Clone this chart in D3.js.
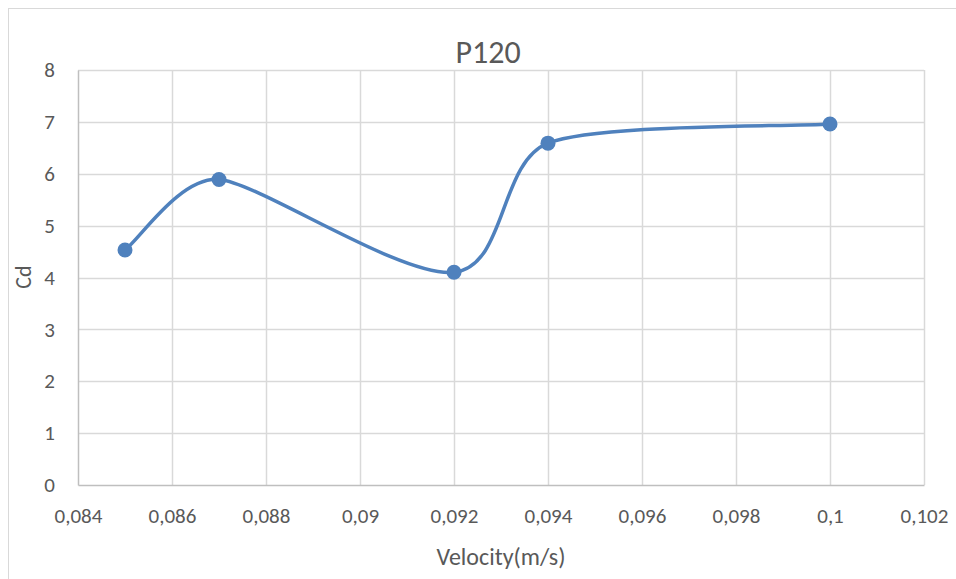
<!DOCTYPE html>
<html>
<head>
<meta charset="utf-8">
<script src="https://cdn.jsdelivr.net/npm/d3@7"></script>
<style>
  html, body { margin: 0; padding: 0; background: #fff; }
  svg { display: block; }
  text { font-family: Carlito, Calibri, Lato, "Liberation Sans", sans-serif; fill: #595959; }
</style>
</head>
<body>
<svg id="chart" width="956" height="579"></svg>
<script>
// Drag coefficient against flow velocity, series P120
const velocity = [0.085, 0.087, 0.092, 0.094, 0.1];
const cd = [4.53, 5.89, 4.10, 6.59, 6.96];
const xTicks = [0.084, 0.086, 0.088, 0.09, 0.092, 0.094, 0.096, 0.098, 0.1, 0.102];
const xTickLabels = ["0,084", "0,086", "0,088", "0,09", "0,092", "0,094", "0,096", "0,098", "0,1", "0,102"];
const yTicks = [0, 1, 2, 3, 4, 5, 6, 7, 8];
const title = "P120";
const xTitle = "Velocity(m/s)";
const yTitle = "Cd";

const FONT = "Carlito, Calibri, Lato, 'Liberation Sans', sans-serif";
const svg = d3.select("#chart");
const plot = { left: 78, top: 70, right: 924, bottom: 485 };

const x = d3.scaleLinear().domain([0.084, 0.102]).range([plot.left, plot.right]);
const y = d3.scaleLinear().domain([0, 8]).range([plot.bottom, plot.top]);

// chart frame
svg.append("rect")
  .attr("x", 8.5).attr("y", 8.5).attr("width", 1000).attr("height", 1000)
  .attr("fill", "none").attr("stroke", "#d9d9d9").attr("stroke-width", 1);

// gridlines
const grid = svg.append("g");
grid.selectAll("line.h").data(yTicks.filter(d => d > 0)).join("line")
  .attr("x1", plot.left).attr("x2", plot.right)
  .attr("y1", d => Math.round(y(d)) + 0.5).attr("y2", d => Math.round(y(d)) + 0.5)
  .attr("stroke", "#d9d9d9").attr("stroke-width", 1.5);
grid.selectAll("line.v").data(xTicks.filter(d => d > 0.084)).join("line")
  .attr("y1", plot.top).attr("y2", plot.bottom)
  .attr("x1", d => Math.round(x(d)) + 0.5).attr("x2", d => Math.round(x(d)) + 0.5)
  .attr("stroke", "#d9d9d9").attr("stroke-width", 1.5);

// axes
const xAxis = d3.axisBottom(x).tickValues(xTicks)
  .tickFormat((d, i) => xTickLabels[i]).tickSize(0).tickPadding(23);
const gx = svg.append("g").attr("transform", `translate(0,${plot.bottom})`).call(xAxis);
gx.select(".domain").attr("stroke", "#bfbfbf").attr("stroke-width", 1.5);
gx.selectAll("text").attr("font-size", 21).attr("fill", "#595959").style("font-family", FONT);

const yAxis = d3.axisLeft(y).tickValues(yTicks).tickSize(0).tickPadding(23);
const gy = svg.append("g").attr("transform", `translate(${plot.left},0)`).call(yAxis);
gy.select(".domain").attr("stroke", "#bfbfbf").attr("stroke-width", 1.5);
gy.selectAll("text").attr("font-size", 21).attr("fill", "#595959").style("font-family", FONT);

// smoothed series line: cubic Bezier segments with Catmull-Rom tangents,
// handle length capped at a third of the shorter neighbouring chord
const pts = velocity.map((v, i) => [x(v), y(cd[i])]);
function smoothPath(p) {
  const n = p.length;
  const dist = (a, b) => Math.hypot(b[0] - a[0], b[1] - a[1]);
  const tan = p.map((pt, i) => {
    const prev = p[Math.max(0, i - 1)], next = p[Math.min(n - 1, i + 1)];
    let tx = (next[0] - prev[0]) / 6, ty = (next[1] - prev[1]) / 6;
    if (i > 0 && i < n - 1) {
      const cap = Math.min(dist(prev, pt), dist(pt, next)) / 3;
      const len = Math.hypot(tx, ty);
      if (len > cap) { tx *= cap / len; ty *= cap / len; }
    }
    return [tx, ty];
  });
  const path = d3.path();
  path.moveTo(p[0][0], p[0][1]);
  for (let i = 0; i < n - 1; i++) {
    path.bezierCurveTo(
      p[i][0] + tan[i][0], p[i][1] + tan[i][1],
      p[i + 1][0] - tan[i + 1][0], p[i + 1][1] - tan[i + 1][1],
      p[i + 1][0], p[i + 1][1]);
  }
  return path.toString();
}
svg.append("path")
  .attr("d", smoothPath(pts))
  .attr("fill", "none").attr("stroke", "#4f81bd").attr("stroke-width", 3.5)
  .attr("stroke-linecap", "round");

svg.selectAll("circle.pt").data(pts).join("circle")
  .attr("cx", d => d[0]).attr("cy", d => d[1]).attr("r", 7.5)
  .attr("fill", "#4f81bd");

// titles
svg.append("text").attr("x", 488).attr("y", 63)
  .attr("text-anchor", "middle").attr("font-size", 32).text(title);
svg.append("text").attr("x", 501).attr("y", 565)
  .attr("text-anchor", "middle").attr("font-size", 24).text(xTitle);
svg.append("text")
  .attr("transform", `translate(31,277) rotate(-90)`)
  .attr("text-anchor", "middle").attr("font-size", 22).text(yTitle);
</script>
</body>
</html>
